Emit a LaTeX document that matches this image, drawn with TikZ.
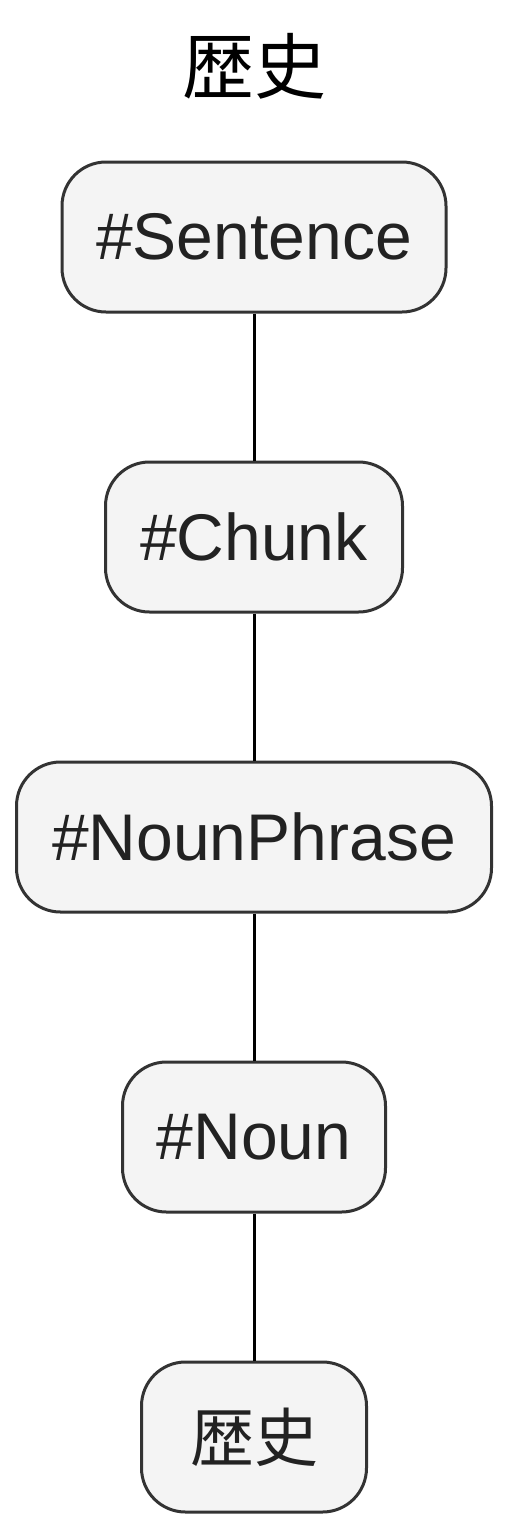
\documentclass[tikz,border=0pt]{standalone}
\usepackage{fontspec}
\setmainfont{Liberation Sans}
\newfontfamily\cjk{Noto Sans CJK JP}
\definecolor{nodefill}{HTML}{F4F4F4}
\definecolor{nodeline}{HTML}{333333}
\definecolor{txt}{HTML}{222222}
\begin{document}
\begin{tikzpicture}[x=1pt,y=-1pt,
  box/.style={draw=nodeline,fill=nodefill,line width=3pt,rounded corners=44pt,
    minimum height=150pt,inner xsep=30pt,text=txt,font=\fontsize{66}{72}\selectfont},
  link/.style={draw=black,line width=3pt}]
\useasboundingbox (0,0) rectangle (508,1529);
\node[font=\cjk\fontsize{72}{80}\selectfont] (title) at (254,66) {歴史};
\node[box,minimum width=384pt] (s) at (254,237) {\#Sentence};
\node[box,minimum width=297pt] (c) at (254,537) {\#Chunk};
\node[box,minimum width=475pt] (np) at (254,837) {\#NounPhrase};
\node[box,minimum width=263pt] (n) at (254,1137) {\#Noun};
\node[box,minimum width=225pt,font=\cjk\fontsize{64}{70}\selectfont] (w) at (254,1437) {歴史};
\draw[link] (s) -- (c);
\draw[link] (c) -- (np);
\draw[link] (np) -- (n);
\draw[link] (n) -- (w);
\end{tikzpicture}
\end{document}
